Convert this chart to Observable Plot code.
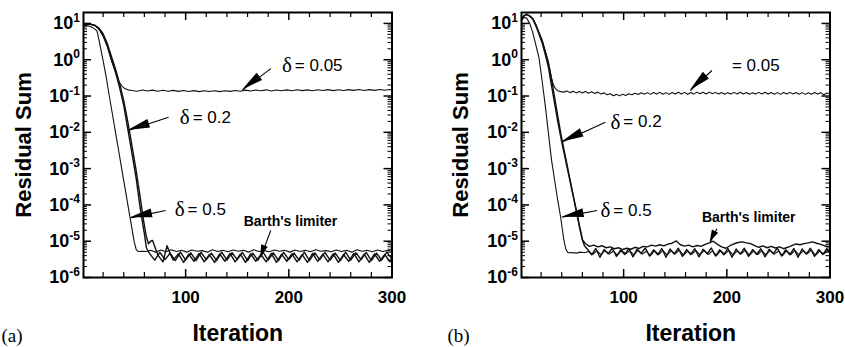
<!DOCTYPE html>
<html><head><meta charset="utf-8">
<script src="https://cdn.jsdelivr.net/npm/d3@7"></script>
<script src="https://cdn.jsdelivr.net/npm/@observablehq/plot@0.6"></script>
<style>
body{margin:0;background:#fff;}
#wrap{display:flex;width:845px;height:347px;overflow:hidden;}
</style></head><body><div id="wrap"></div>
<script>
// ---------- axis ticks / labels ----------
const iterMinorTicks = [20,40,60,80,120,140,160,180,220,240,260,280];
const iterMajorTicks = [100,200];
const iterTickLabels = [100,200,300];
const residualMajor = [1e-6,1e-5,1e-4,1e-3,1e-2,1e-1,1,10];
const residualExponents = ["-6","-5","-4","-3","-2","-1","0","1"];
const residualMinorMult = [2,3,4,5,6,7,8,9];
const xTitle = "Iteration";
const yTitle = "Residual Sum";
const panelTags = ["(a)","(b)"];

// ---------- panel (a) series [iteration, residual] ----------
const a_delta005 = [[1,9.3],[4,9.6],[8,9.5],[12,8.8],[16,7.0],[20,4.6],[24,2.4],[28,1.0],[32,0.46],[35,0.26],[38,0.19],[41,0.16],[44,0.148],[48,0.142],[53,0.136],[58,0.146],[63,0.137],[68,0.145],[73,0.135],[78,0.144],[83,0.136],[88,0.143],[93,0.134],[98,0.142],[103,0.133],[108,0.141],[113,0.132],[118,0.140],[123,0.133],[128,0.139],[133,0.132],[138,0.140],[143,0.134],[148,0.142],[153,0.136],[158,0.145],[163,0.138],[168,0.147],[173,0.139],[178,0.148],[183,0.137],[188,0.146],[193,0.139],[198,0.148],[203,0.140],[208,0.149],[213,0.141],[218,0.148],[223,0.140],[228,0.149],[233,0.142],[238,0.150],[243,0.141],[248,0.149],[253,0.142],[258,0.150],[263,0.143],[268,0.151],[273,0.142],[278,0.150],[283,0.143],[288,0.151],[293,0.144],[298,0.152],[300,0.148]];
const a_delta02 = [[1,9.3],[4,9.6],[8,9.5],[12,8.8],[16,7.0],[20,4.6],[24,2.4],[28,1.0],[32,0.46],[36,0.17],[40,0.055],[44,0.012],[48,2.6e-3],[52,5.5e-4],[56,8e-5],[58,3.5e-5],[60,1.6e-5],[62,6.5e-6],[65,4.6e-6],[70,3.0e-6],[75,4.9e-6],[80,3.1e-6],[85,4.7e-6],[90,2.9e-6],[95,5.0e-6],[100,3.0e-6],[105,4.8e-6],[110,2.9e-6],[115,4.9e-6],[120,3.1e-6],[125,4.7e-6],[130,2.9e-6],[135,5.0e-6],[140,3.0e-6],[145,4.8e-6],[150,3.1e-6],[155,4.9e-6],[160,2.9e-6],[165,4.7e-6],[170,3.0e-6],[175,5.0e-6],[180,3.0e-6],[185,4.8e-6],[190,2.9e-6],[195,4.9e-6],[200,3.1e-6],[205,4.7e-6],[210,3.0e-6],[215,5.0e-6],[220,2.9e-6],[225,4.8e-6],[230,3.1e-6],[235,4.9e-6],[240,3.0e-6],[245,4.7e-6],[250,2.9e-6],[255,5.0e-6],[260,3.0e-6],[265,4.8e-6],[270,3.1e-6],[275,4.9e-6],[280,2.9e-6],[285,4.7e-6],[290,3.0e-6],[295,5.0e-6],[300,3.2e-6]];
const a_barth = [[1,9.3],[4,9.5],[8,9.4],[12,8.9],[16,7.4],[20,5.2],[24,2.8],[28,1.25],[32,0.56],[36,0.22],[40,0.075],[44,0.019],[48,4.2e-3],[52,9e-4],[56,1.6e-4],[59,4e-5],[62,1.3e-5],[64,8.5e-6],[66,1.0e-5],[68,1.05e-5],[71,6e-6],[73,4.2e-6],[78,2.7e-6],[82,7.5e-6],[85,4.5e-6],[88,3.0e-6],[93,4.5e-6],[98,2.6e-6],[103,4.4e-6],[108,2.8e-6],[113,4.6e-6],[118,2.7e-6],[123,4.3e-6],[128,2.6e-6],[133,4.5e-6],[138,2.8e-6],[143,4.6e-6],[148,2.7e-6],[153,4.4e-6],[158,2.6e-6],[163,4.5e-6],[168,2.8e-6],[173,4.3e-6],[178,2.7e-6],[183,4.6e-6],[188,2.6e-6],[193,4.4e-6],[198,2.8e-6],[203,4.5e-6],[208,2.7e-6],[213,4.3e-6],[218,2.6e-6],[223,4.6e-6],[228,2.8e-6],[233,4.4e-6],[238,2.7e-6],[243,4.5e-6],[248,2.6e-6],[253,4.3e-6],[258,2.8e-6],[263,4.6e-6],[268,2.7e-6],[273,4.4e-6],[278,2.6e-6],[283,4.5e-6],[288,2.8e-6],[293,4.3e-6],[298,2.7e-6],[300,3.5e-6]];
const a_delta05 = [[1,8.8],[4,8.7],[8,8.2],[11,7.3],[14,6.3],[16,3.5],[18,1.8],[20,0.95],[23,0.33],[26,0.1],[29,0.032],[32,0.01],[35,3.2e-3],[38,1e-3],[41,3.2e-4],[44,1e-4],[47,3.2e-5],[50,1e-5],[52,6e-6],[54,5.2e-6],[58,5.3e-6],[62,5.2e-6],[66,5.6e-6],[71,5.0e-6],[76,5.7e-6],[81,5.1e-6],[86,5.8e-6],[91,5.2e-6],[96,5.6e-6],[101,5.0e-6],[106,5.7e-6],[111,5.3e-6],[116,5.5e-6],[121,5.0e-6],[126,5.8e-6],[131,5.2e-6],[136,5.6e-6],[141,5.1e-6],[146,5.7e-6],[151,5.3e-6],[156,5.6e-6],[161,5.0e-6],[166,5.8e-6],[171,5.2e-6],[176,5.5e-6],[181,5.1e-6],[186,5.7e-6],[191,5.3e-6],[196,5.6e-6],[201,5.0e-6],[206,5.7e-6],[211,5.2e-6],[216,5.6e-6],[221,5.1e-6],[226,5.8e-6],[231,5.3e-6],[236,5.5e-6],[241,5.1e-6],[246,5.7e-6],[251,5.2e-6],[256,5.6e-6],[261,5.0e-6],[266,5.8e-6],[271,5.3e-6],[276,5.6e-6],[281,5.1e-6],[286,5.7e-6],[291,5.2e-6],[296,5.6e-6],[300,5.3e-6]];

// ---------- panel (b) series ----------
const b_delta005 = [[1,12],[3,16],[6,18],[9,16],[12,13.5],[15,9],[18,5.5],[21,3.4],[24,1.7],[27,0.85],[30,0.32],[32,0.2],[34,0.16],[36,0.14],[39,0.132],[42,0.128],[45,0.137],[48,0.124],[51,0.135],[54,0.122],[57,0.134],[60,0.121],[63,0.133],[66,0.12],[69,0.131],[72,0.118],[75,0.128],[78,0.113],[81,0.122],[84,0.108],[87,0.116],[90,0.102],[93,0.111],[96,0.101],[99,0.112],[102,0.104],[105,0.116],[108,0.108],[111,0.12],[114,0.11],[117,0.123],[120,0.112],[123,0.124],[126,0.111],[129,0.125],[132,0.113],[135,0.126],[138,0.112],[141,0.124],[144,0.111],[147,0.125],[150,0.113],[153,0.127],[156,0.114],[159,0.126],[162,0.112],[165,0.125],[168,0.113],[171,0.128],[174,0.115],[177,0.127],[180,0.114],[183,0.128],[186,0.115],[189,0.126],[192,0.113],[195,0.125],[198,0.112],[201,0.124],[204,0.113],[207,0.126],[210,0.114],[213,0.127],[216,0.113],[219,0.125],[222,0.112],[225,0.124],[228,0.113],[231,0.126],[234,0.114],[237,0.127],[240,0.113],[243,0.125],[246,0.112],[249,0.124],[252,0.111],[255,0.125],[258,0.113],[261,0.126],[264,0.114],[267,0.125],[270,0.112],[273,0.124],[276,0.111],[279,0.123],[282,0.112],[285,0.125],[288,0.113],[291,0.124],[294,0.108],[297,0.121],[300,0.115]];
const b_delta02 = [[1,12],[3,16],[6,18],[9,16],[12,13.5],[15,9],[18,5.5],[21,3.4],[24,1.7],[27,0.85],[30,0.3],[33,0.095],[36,0.03],[39,0.0095],[42,3.5e-3],[45,1.35e-3],[48,5e-4],[51,1.9e-4],[54,7.4e-5],[57,2.8e-5],[60,1.1e-5],[62,7.5e-6],[65,6.0e-6],[69,4.2e-6],[73,6.3e-6],[77,3.6e-6],[81,5.9e-6],[85,4.5e-6],[89,6.4e-6],[93,3.8e-6],[97,5.7e-6],[101,4.3e-6],[105,6.2e-6],[109,3.7e-6],[113,6.0e-6],[117,4.6e-6],[121,6.5e-6],[125,3.9e-6],[129,5.8e-6],[133,4.2e-6],[137,6.3e-6],[141,3.6e-6],[145,6.1e-6],[149,4.4e-6],[153,6.4e-6],[157,3.8e-6],[161,5.9e-6],[165,4.3e-6],[169,6.2e-6],[173,3.7e-6],[177,6.0e-6],[181,4.5e-6],[185,6.5e-6],[189,3.9e-6],[193,5.8e-6],[197,4.2e-6],[201,6.3e-6],[205,3.6e-6],[209,6.1e-6],[213,4.4e-6],[217,6.4e-6],[221,3.8e-6],[225,5.9e-6],[229,4.3e-6],[233,6.2e-6],[237,3.7e-6],[241,6.0e-6],[245,4.5e-6],[249,6.5e-6],[253,3.9e-6],[257,5.8e-6],[261,4.2e-6],[265,6.3e-6],[269,3.6e-6],[273,6.1e-6],[277,4.4e-6],[281,6.4e-6],[285,3.8e-6],[289,5.9e-6],[293,4.3e-6],[297,6.2e-6],[300,4.6e-6]];
const b_barth = [[1,12],[3,15.5],[6,17.5],[9,16],[12,13],[15,8.5],[18,5],[21,2.9],[24,1.4],[27,0.65],[30,0.2],[33,0.065],[36,0.021],[39,7.5e-3],[42,2.9e-3],[45,1.15e-3],[48,4.6e-4],[51,1.8e-4],[54,7e-5],[57,2.6e-5],[60,1.1e-5],[63,8.5e-6],[67,7.2e-6],[71,7.8e-6],[75,7.0e-6],[79,7.5e-6],[83,6.6e-6],[87,7.0e-6],[91,6.2e-6],[95,6.6e-6],[99,5.9e-6],[103,6.4e-6],[107,6.0e-6],[111,6.8e-6],[115,6.3e-6],[119,7.2e-6],[123,7.0e-6],[127,7.8e-6],[131,7.3e-6],[135,8.0e-6],[139,7.4e-6],[143,8.3e-6],[147,8.8e-6],[151,1.02e-5],[155,8.0e-6],[159,7.3e-6],[163,7.8e-6],[167,7.0e-6],[171,7.6e-6],[175,7.2e-6],[179,8.2e-6],[183,9.0e-6],[187,1.0e-5],[191,8.2e-6],[195,7.0e-6],[199,6.4e-6],[203,7.5e-6],[207,8.5e-6],[211,9.2e-6],[215,9.6e-6],[219,9.0e-6],[223,8.6e-6],[227,7.6e-6],[231,6.8e-6],[235,7.4e-6],[239,6.6e-6],[243,7.2e-6],[247,6.5e-6],[251,7.0e-6],[255,6.2e-6],[259,6.8e-6],[263,7.6e-6],[267,8.4e-6],[271,8.0e-6],[275,8.6e-6],[279,9.0e-6],[283,9.6e-6],[287,8.8e-6],[291,8.2e-6],[295,7.4e-6],[299,7.0e-6]];
const b_delta05 = [[1,12],[3,14.5],[6,14],[9,10],[12,5.5],[15,2.5],[18,1.1],[21,0.26],[24,0.055],[27,0.01],[30,1.8e-3],[33,5e-4],[36,1.4e-4],[39,4.5e-5],[42,1.1e-5],[44,6e-6],[46,4.8e-6],[50,4.9e-6],[54,4.7e-6],[58,5.0e-6],[62,4.8e-6],[66,5.2e-6],[70,4.3e-6],[74,5.5e-6],[78,4.2e-6],[82,5.6e-6],[86,4.4e-6],[90,5.3e-6],[94,4.1e-6],[98,5.6e-6],[102,4.5e-6],[106,5.4e-6],[110,4.2e-6],[114,5.7e-6],[118,4.4e-6],[122,5.3e-6],[126,4.0e-6],[130,5.5e-6],[134,4.3e-6],[138,5.6e-6],[142,4.2e-6],[146,5.4e-6],[150,4.5e-6],[154,5.7e-6],[158,4.1e-6],[162,5.3e-6],[166,4.4e-6],[170,5.5e-6],[174,4.2e-6],[178,5.6e-6],[182,4.3e-6],[186,5.4e-6],[190,4.0e-6],[194,5.5e-6],[198,4.4e-6],[202,5.6e-6],[206,4.2e-6],[210,5.3e-6],[214,4.5e-6],[218,5.7e-6],[222,4.1e-6],[226,5.4e-6],[230,4.3e-6],[234,5.5e-6],[238,4.2e-6],[242,5.6e-6],[246,4.4e-6],[250,5.3e-6],[254,4.0e-6],[258,5.5e-6],[262,4.3e-6],[266,5.6e-6],[270,4.2e-6],[274,5.4e-6],[278,4.5e-6],[282,5.7e-6],[286,4.1e-6],[290,5.3e-6],[294,4.4e-6],[298,5.5e-6],[300,4.8e-6]];

// ---------- annotations (data coordinates) ----------
const a_labelX = [205.8, 106.8, 101.9];
const a_labelY = [0.69, 0.0256, 7.5e-5];
const a_labelSym = ["δ","δ","δ"];
const a_labelText = ["= 0.05","= 0.2","= 0.5"];
const a_arrowX1 = [182.5, 83.5, 80.6];
const a_arrowY1 = [0.57, 0.026, 7.0e-5];
const a_arrowX2 = [155, 44.4, 46.6];
const a_arrowY2 = [0.145, 0.0112, 4.4e-5];
const a_barthText = ["Barth's limiter"];
const a_barthXY = [156.3, 3.5e-5];
const a_barthArrow = [182.5, 1.97e-5, 172.8, 3.6e-6];

const b_labelX = [204.9, 99.7, 90];
const b_labelY = [0.69, 0.0192, 7.0e-5];
const b_labelSym = ["","δ","δ"];
const b_labelText = ["= 0.05","= 0.2","= 0.5"];
const b_arrowX1 = [185.6, 82.3, 74.2];
const b_arrowY1 = [0.505, 0.019, 7.0e-5];
const b_arrowX2 = [164.6, 40.4, 40.4];
const b_arrowY2 = [0.141, 0.0054, 4.6e-5];
const b_barthText = ["Barth's limiter"];
const b_barthXY = [175.9, 4.4e-5];
const b_barthArrow = [190.4, 2.2e-5, 183.9, 9.3e-6];

// ---------- helpers ----------
const pts = arr => arr.map(([x, y]) => ({x, y}));
const residualMinor = residualMajor.flatMap(m => residualMinorMult.map(k => k * m)).filter(v => v < 20);
const SANS = '"Liberation Sans", Arial, Helvetica, sans-serif';
const SERIF = '"Liberation Serif", "Times New Roman", serif';

function headsMark(x1, y1, x2, y2, len, half) {
  return (index, scales) => {
    const g = d3.create("svg:g").attr("fill", "black");
    x1.forEach((_, i) => {
      const ax = scales.x(x1[i]), ay = scales.y(y1[i]);
      const tx = scales.x(x2[i]), ty = scales.y(y2[i]);
      const a = Math.atan2(ty - ay, tx - ax);
      const bx = tx - len * Math.cos(a), by = ty - len * Math.sin(a);
      const px = -Math.sin(a) * half, py = Math.cos(a) * half;
      g.append("path").attr("d", `M${tx},${ty}L${bx + px},${by + py}L${bx - px},${by - py}Z`);
    });
    return g.node();
  };
}

function yLabelsMark() {
  return (index, scales, values, dim) => {
    const g = d3.create("svg:g")
      .attr("font-family", SANS).attr("font-weight", "bold")
      .attr("font-size", 18).attr("text-anchor", "end").attr("fill", "black");
    residualMajor.forEach((v, i) => {
      const t = g.append("text").attr("x", dim.marginLeft - 3).attr("y", scales.y(v)).attr("dy", "0.36em");
      t.append("tspan").text("10");
      t.append("tspan").attr("font-size", 12).attr("dy", "-0.62em").text(residualExponents[i]);
    });
    return g.node();
  };
}

function panel(cfg) {
  const FW = cfg.width - cfg.marginLeft - cfg.marginRight;
  const FH = 347 - 12 - 70;
  const lab = cfg.labelX.map((x, i) => ({x, y: cfg.labelY[i], sym: cfg.labelSym[i], text: cfg.labelText[i]}));
  const arrows = cfg.arrowX1.map((x1, i) => ({x1, y1: cfg.arrowY1[i], x2: cfg.arrowX2[i], y2: cfg.arrowY2[i]}));
  const barthArrow = [{x1: cfg.barthArrow[0], y1: cfg.barthArrow[1], x2: cfg.barthArrow[2], y2: cfg.barthArrow[3]}];
  return Plot.plot({
    width: cfg.width, height: 347,
    marginLeft: cfg.marginLeft, marginRight: cfg.marginRight, marginTop: 12, marginBottom: 70,
    style: {background: "white", fontFamily: SANS, color: "black", overflow: "visible"},
    x: {domain: [1, 300]},
    y: {type: "log", domain: [1e-6, 20], axis: null},
    marks: [
      // curves
      Plot.line(pts(cfg.series[0]), {x: "x", y: "y", stroke: "#111", strokeWidth: 1.1}),
      Plot.line(pts(cfg.series[1]), {x: "x", y: "y", stroke: "#111", strokeWidth: 1.4}),
      Plot.line(pts(cfg.series[2]), {x: "x", y: "y", stroke: "#111", strokeWidth: 1.4}),
      Plot.line(pts(cfg.series[3]), {x: "x", y: "y", stroke: "#111", strokeWidth: 1.1}),
      // inward ticks
      Plot.tickX(iterMinorTicks, {x: d => d, insetTop: FH - 5, stroke: "black", strokeWidth: 1.2}),
      Plot.tickX(iterMinorTicks, {x: d => d, insetBottom: FH - 5, stroke: "black", strokeWidth: 1.2}),
      Plot.tickX(iterMajorTicks, {x: d => d, insetTop: FH - 8, stroke: "black", strokeWidth: 1.5}),
      Plot.tickX(iterMajorTicks, {x: d => d, insetBottom: FH - 8, stroke: "black", strokeWidth: 1.5}),
      Plot.tickY(residualMinor, {y: d => d, insetRight: FW - 4, stroke: "black", strokeWidth: 1}),
      Plot.tickY(residualMinor, {y: d => d, insetLeft: FW - 4, stroke: "black", strokeWidth: 1}),
      Plot.tickY(residualMajor, {y: d => d, insetRight: FW - 8, stroke: "black", strokeWidth: 1.5}),
      Plot.tickY(residualMajor, {y: d => d, insetLeft: FW - 8, stroke: "black", strokeWidth: 1.5}),
      Plot.frame({stroke: "black", strokeWidth: 2}),
      // axis labels
      Plot.axisX(iterTickLabels, {tickSize: 0, tickPadding: 13, fontSize: 17, fontWeight: "bold", label: null}),
      yLabelsMark(),
      Plot.text([xTitle], {frameAnchor: "bottom", dy: 56, dx: cfg.xTitleDx, fontSize: 23, fontWeight: "bold", lineAnchor: "middle"}),
      Plot.text([yTitle], {frameAnchor: "left", rotate: -90, dx: cfg.yTitleDx, fontSize: 22, fontWeight: "bold", lineAnchor: "middle", textAnchor: "middle"}),
      Plot.text([cfg.tag], {frameAnchor: "bottom-left", dx: cfg.tagDx, dy: 58, fontSize: 19, fontFamily: SERIF, textAnchor: "start", lineAnchor: "middle"}),
      // annotations
      Plot.link(arrows, {x1: "x1", y1: "y1", x2: "x2", y2: "y2", stroke: "black", strokeWidth: 1.1}),
      headsMark(cfg.arrowX1, cfg.arrowY1, cfg.arrowX2, cfg.arrowY2, 22, 4.5),
      Plot.link(barthArrow, {x1: "x1", y1: "y1", x2: "x2", y2: "y2", stroke: "black", strokeWidth: 1.1}),
      headsMark([cfg.barthArrow[0]], [cfg.barthArrow[1]], [cfg.barthArrow[2]], [cfg.barthArrow[3]], 12, 3.5),
      Plot.text(lab, {x: "x", y: "y", text: "sym", textAnchor: "end", dx: -3, fontSize: 21, fontFamily: SERIF}),
      Plot.text(lab, {x: "x", y: "y", text: "text", textAnchor: "start", fontSize: 17}),
      Plot.text(cfg.barthText, {x: () => cfg.barthXY[0], y: () => cfg.barthXY[1], textAnchor: "start", fontSize: 14, fontWeight: "bold"})
    ]
  });
}

const wrap = document.getElementById("wrap");
wrap.append(panel({
  width: 422, marginLeft: 83, marginRight: 30.5,
  series: [a_delta005, a_delta02, a_barth, a_delta05],
  labelX: a_labelX, labelY: a_labelY, labelSym: a_labelSym, labelText: a_labelText,
  arrowX1: a_arrowX1, arrowY1: a_arrowY1, arrowX2: a_arrowX2, arrowY2: a_arrowY2,
  barthText: a_barthText, barthXY: a_barthXY, barthArrow: a_barthArrow,
  tag: panelTags[0], tagDx: -82, xTitleDx: 0, yTitleDx: -60
}));
wrap.append(panel({
  width: 423, marginLeft: 99, marginRight: 15.5,
  series: [b_delta005, b_delta02, b_barth, b_delta05],
  labelX: b_labelX, labelY: b_labelY, labelSym: b_labelSym, labelText: b_labelText,
  arrowX1: b_arrowX1, arrowY1: b_arrowY1, arrowX2: b_arrowX2, arrowY2: b_arrowY2,
  barthText: b_barthText, barthXY: b_barthXY, barthArrow: b_barthArrow,
  tag: panelTags[1], tagDx: -74, xTitleDx: 15, yTitleDx: -61
}));
</script>
</body></html>
